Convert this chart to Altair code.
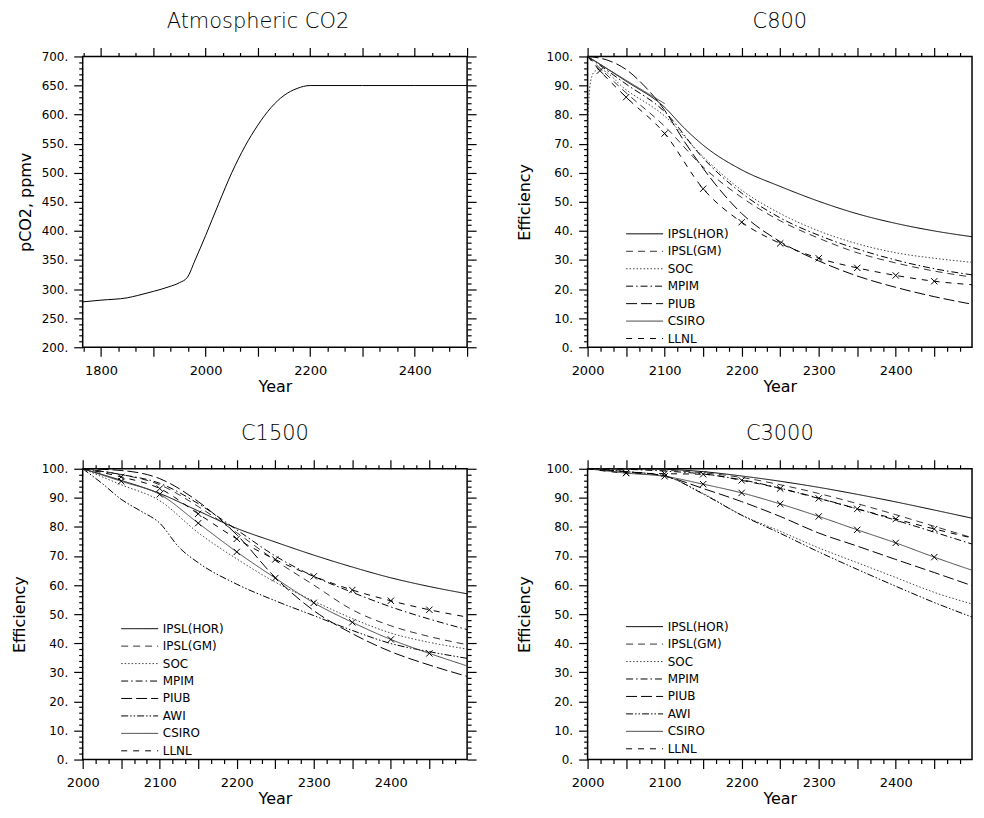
import altair as alt
import pandas as pd

FONT = "DejaVu Sans"
WL, WR, H = 386, 386, 292

# ---------------- data ----------------
co2_years = [1765, 1800, 1850, 1870, 1900, 1930, 1950, 1965, 1980, 2000, 2025, 2050, 2075, 2100, 2125, 2150, 2175, 2200, 2300, 2400, 2500]
co2_ppmv = [278, 281, 285, 289, 296, 304, 311, 320, 350, 392, 447, 500, 545, 582, 612, 633, 645, 650, 650, 650, 650]

SERIES = ["IPSL(HOR)", "IPSL(GM)", "SOC", "MPIM", "PIUB", "AWI", "CSIRO", "LLNL"]

# C800
c800_years = [2000, 2050, 2100, 2150, 2200, 2250, 2300, 2350, 2400, 2450, 2499]
c800_ipsl_gm = [100, 87.5, 76, 62, 51.5, 43.5, 37.5, 32.5, 29, 26.2, 24.1]
c800_mpim = [100, 90.5, 81, 65, 53, 44.5, 38.5, 33.8, 30, 27, 24.9]
c800_hor_years = [2000, 2050, 2100, 2125, 2150, 2200, 2250, 2300, 2350, 2400, 2450, 2499]
c800_ipsl_hor = [100, 91.5, 82.5, 75.5, 69.5, 61, 55.3, 50.2, 45.9, 42.6, 40, 38]
c800_soc_years = [2000, 2003, 2008, 2015, 2050, 2100, 2150, 2200, 2250, 2300, 2350, 2400, 2450, 2499]
c800_soc = [76, 90, 94.5, 95.5, 88.5, 79.5, 65.5, 54, 46, 40, 35.6, 32.5, 30.6, 29.2]
c800_piub_years = [2000, 2025, 2050, 2075, 2100, 2125, 2150, 2200, 2250, 2300, 2350, 2400, 2450, 2499]
c800_piub = [100, 98.8, 95.5, 89.5, 81.5, 71, 61.5, 46, 36.3, 29.7, 24.5, 20.6, 17.4, 14.8]
c800_csiro_years = [2000, 2050, 2100]
c800_csiro = [100, 91.8, 83.8]
c800_llnl_years = [2000, 2016, 2050, 2100, 2150, 2200, 2250, 2300, 2350, 2400, 2450, 2499]
c800_llnl = [100, 95.1, 86, 73.5, 54.5, 43, 35.7, 30.6, 27.3, 24.7, 22.7, 21.5]

# C1500
c1500_years = [2000, 2050, 2100, 2150, 2200, 2250, 2300, 2350, 2400, 2450, 2499]
c1500_ipsl_hor = [100, 96, 91.5, 85.5, 79.5, 74.8, 70.3, 66.2, 62.5, 59.5, 57]
c1500_ipsl_gm = [100, 98, 94.5, 87, 78, 68.5, 60, 51.5, 46, 42.3, 39.5]
c1500_soc = [100, 94.5, 89, 78, 69, 61, 54.5, 48.5, 43.5, 40.3, 38]
c1500_mpim = [100, 98, 95, 88, 79, 70, 63, 57.5, 52.5, 48.3, 44.7]
c1500_piub = [100, 99.4, 96.6, 88.7, 77.3, 62.6, 51.2, 43.3, 37.1, 32.5, 28.6]
c1500_awi_years = [2000, 2025, 2050, 2075, 2100, 2125, 2150, 2200, 2250, 2300, 2350, 2400, 2450, 2499]
c1500_awi = [100, 95, 89.5, 85.5, 81.3, 73, 67.7, 60.3, 54.6, 49.5, 44.4, 39.9, 37.1, 34.8]
c1500_csiro = [100, 95.7, 91.2, 81.3, 71.4, 62.4, 53.9, 47.2, 41.3, 36.5, 32.2]
c1500_llnl = [100, 97.2, 93.2, 84.5, 75.9, 68.8, 63, 58.3, 54.6, 51.5, 49]

# C3000
c3000_years = [2000, 2050, 2100, 2150, 2200, 2250, 2300, 2350, 2400, 2450, 2499]
c3000_ipsl_hor = [100, 100, 99.8, 99, 97.5, 95.7, 93.6, 91.2, 88.6, 85.8, 83]
c3000_ipsl_gm = [100, 99.9, 99.5, 98.6, 97, 94.5, 91.5, 88, 84.2, 80.2, 76.3]
c3000_soc = [100, 99, 97.5, 91.5, 84.1, 78.5, 72.8, 67.7, 62.6, 57.5, 53.5]
c3000_mpim = [100, 99.8, 99.2, 98.2, 96.2, 93.3, 89.9, 86.2, 82.3, 78.2, 74.1]
c3000_piub = [100, 99, 97.5, 93.2, 88.7, 83.6, 77.9, 73.4, 68.8, 64.3, 59.8]
c3000_awi = [100, 99, 97.5, 91.3, 84, 77.8, 71.4, 65.4, 59.6, 54, 49]
c3000_csiro = [100, 98.5, 97.4, 94.7, 91.7, 87.9, 83.6, 79, 74.5, 69.6, 65.1]
c3000_llnl = [100, 98.6, 98.3, 98.1, 96, 93.2, 89.8, 86.2, 82.7, 79.3, 76.2]

# ---------------- styles ----------------
DASHES = [[1, 0], [7, 5], [1.5, 2], [7, 3, 1.5, 3], [11, 4], [7, 2, 1.5, 2, 1.5, 2], [1, 0], [6, 6]]
COLORS = ["#000000", "#333333", "#444444", "#000000", "#000000", "#000000", "#444444", "#000000"]
WIDTHS = [1, 1, 1, 1, 1, 1, 1.6, 1]


def table(entries):
    rows = []
    for name, yrs, vals in entries:
        for yr, v in zip(yrs, vals):
            rows.append({"series": name, "year": yr, "value": v})
    return pd.DataFrame(rows)


def markers(entries, marked):
    rows = []
    for name, yrs, vals in entries:
        if name in marked:
            for yr, v in list(zip(yrs, vals))[1:-1]:
                rows.append({"series": name, "year": yr, "value": v})
    return pd.DataFrame(rows)


c800_entries = [
    ("IPSL(HOR)", c800_hor_years, c800_ipsl_hor),
    ("IPSL(GM)", c800_years, c800_ipsl_gm),
    ("SOC", c800_soc_years, c800_soc),
    ("MPIM", c800_years, c800_mpim),
    ("PIUB", c800_piub_years, c800_piub),
    ("CSIRO", c800_csiro_years, c800_csiro),
    ("LLNL", c800_llnl_years, c800_llnl),
]
c1500_entries = [
    ("IPSL(HOR)", c1500_years, c1500_ipsl_hor),
    ("IPSL(GM)", c1500_years, c1500_ipsl_gm),
    ("SOC", c1500_years, c1500_soc),
    ("MPIM", c1500_years, c1500_mpim),
    ("PIUB", c1500_years, c1500_piub),
    ("AWI", c1500_awi_years, c1500_awi),
    ("CSIRO", c1500_years, c1500_csiro),
    ("LLNL", c1500_years, c1500_llnl),
]
c3000_entries = [
    ("IPSL(HOR)", c3000_years, c3000_ipsl_hor),
    ("IPSL(GM)", c3000_years, c3000_ipsl_gm),
    ("SOC", c3000_years, c3000_soc),
    ("MPIM", c3000_years, c3000_mpim),
    ("PIUB", c3000_years, c3000_piub),
    ("AWI", c3000_years, c3000_awi),
    ("CSIRO", c3000_years, c3000_csiro),
    ("LLNL", c3000_years, c3000_llnl),
]

# ---------------- axes helpers ----------------
AX = dict(domain=False, grid=False, tickColor="black", tickWidth=1.2)


def x_axis(orient, values, size, width, label_expr=None):
    if label_expr is None:
        return alt.Axis(orient=orient, values=values, tickSize=size, labels=False, title=None, **AX)
    return alt.Axis(orient=orient, values=values, tickSize=size, labelExpr=label_expr,
                    labelFont=FONT, labelFontSize=13, labelColor="black", labelPadding=8,
                    labelFlush=False, title="Year", titleFont=FONT, titleFontSize=16,
                    titleFontWeight="normal", titleColor="black", titleX=width / 2, titleY=39,
                    titleBaseline="middle", **AX)


def y_axis(orient, values, size, title=None, title_x=-63):
    if title is None:
        return alt.Axis(orient=orient, values=values, tickSize=size, labels=False, title=None, **AX)
    return alt.Axis(orient=orient, values=values, tickSize=size, labelExpr="datum.value + '.'",
                    labelFont=FONT, labelFontSize=12, labelColor="black", labelPadding=6,
                    labelFlush=False, title=title, titleFont=FONT, titleFontSize=16,
                    titleFontWeight="normal", titleColor="black", titleX=title_x, titleY=H / 2,
                    titleAngle=270, titleBaseline="middle", **AX)


def axis_layers(df, xs, ys, width, xmaj, xmin, ymaj, ymin, x_expr, ytitle, ytitle_x, right):
    base = alt.Chart(df).mark_point(opacity=0)
    layers = [
        base.encode(x=alt.X("year:Q", scale=xs, axis=x_axis("bottom", xmaj, 9, width, x_expr)),
                    y=alt.Y("value:Q", scale=ys, axis=y_axis("left", ymaj, 9, ytitle, ytitle_x))),
        base.encode(x=alt.X("year:Q", scale=xs, axis=x_axis("bottom", xmin, 4, width)),
                    y=alt.Y("value:Q", scale=ys, axis=y_axis("left", ymin, 4))),
    ]
    if right:
        layers += [
            base.encode(x=alt.X("year:Q", scale=xs, axis=x_axis("top", xmaj, 9, width)),
                        y=alt.Y("value:Q", scale=ys, axis=y_axis("right", ymaj, 9))),
            base.encode(x=alt.X("year:Q", scale=xs, axis=x_axis("top", xmin, 4, width)),
                        y=alt.Y("value:Q", scale=ys, axis=y_axis("right", ymin, 4))),
        ]
    else:
        layers += [
            base.encode(x=alt.X("year:Q", scale=xs, axis=x_axis("top", xmaj, 9, width)),
                        y=alt.Y("value:Q", scale=ys, axis=None)),
            base.encode(x=alt.X("year:Q", scale=xs, axis=x_axis("top", xmin, 4, width)),
                        y=alt.Y("value:Q", scale=ys, axis=None)),
        ]
    return layers


def title_params(text, dx=0):
    return alt.TitleParams(text=text, font=FONT, fontSize=21, fontWeight=200, color="black",
                           anchor="middle", frame="group", baseline="alphabetic", offset=-2, dx=dx)


# efficiency tick values
eff_xmaj = [2000 + 50 * k for k in range(10)]
eff_xmin = [2000 + k * 50 / 3 for k in range(30) if k % 3 != 0]
eff_ymaj = list(range(0, 101, 10))
eff_ymin = [v for v in range(0, 101, 2) if v % 10 != 0]
eff_xexpr = "datum.value % 100 == 0 ? '' + datum.value : ''"

sd_scale = alt.Scale(domain=SERIES, range=DASHES)
col_scale = alt.Scale(domain=SERIES, range=COLORS)
sw_scale = alt.Scale(domain=SERIES, range=WIDTHS)


def eff_panel(title, entries, marked, legend_top, right, width):
    df = table(entries)
    mk = markers(entries, marked)
    names = [e[0] for e in entries]
    leg = pd.DataFrame({"series": names, "ly": [legend_top - 6 * i for i in range(len(names))]})
    xs = alt.Scale(domain=[2000, 2499], nice=False, zero=False)
    ys = alt.Scale(domain=[0, 100], nice=False, zero=False)
    style = dict(
        color=alt.Color("series:N", scale=col_scale, legend=None),
        strokeDash=alt.StrokeDash("series:N", scale=sd_scale, legend=None),
        strokeWidth=alt.StrokeWidth("series:N", scale=sw_scale, legend=None),
    )
    lines = alt.Chart(df).mark_line(interpolate="monotone").encode(
        x=alt.X("year:Q", scale=xs, axis=None),
        y=alt.Y("value:Q", scale=ys, axis=None),
        detail="series:N", **style)
    pts = alt.Chart(mk).mark_point(shape="M-1,-1L1,1M-1,1L1,-1", filled=False, size=40,
                                   color="black", strokeWidth=1, opacity=1).encode(
        x=alt.X("year:Q", scale=xs, axis=None),
        y=alt.Y("value:Q", scale=ys, axis=None))
    leg_lines = alt.Chart(leg).transform_calculate(lx1="2050", lx2="2098").mark_rule().encode(
        x=alt.X("lx1:Q", scale=xs, axis=None), x2="lx2:Q",
        y=alt.Y("ly:Q", scale=ys, axis=None), **style)
    leg_text = alt.Chart(leg).transform_calculate(tx="2104").mark_text(
        align="left", baseline="middle", font=FONT, fontSize=12, color="black").encode(
        x=alt.X("tx:Q", scale=xs, axis=None),
        y=alt.Y("ly:Q", scale=ys, axis=None), text="series:N")
    axes = axis_layers(df, xs, ys, width, eff_xmaj, eff_xmin, eff_ymaj, eff_ymin, eff_xexpr,
                       "Efficiency", -63, right)
    return alt.layer(*axes, lines, pts, leg_lines, leg_text).resolve_axis(
        x="independent", y="independent").properties(
        width=width, height=H, title=title_params(title))


# CO2 panel
co2_df = pd.DataFrame({"year": co2_years, "value": co2_ppmv})
co2_xs = alt.Scale(domain=[1765, 2500], nice=False, zero=False)
co2_ys = alt.Scale(domain=[200, 700], nice=False, zero=False)
co2_xmaj = [1800 + 100 * k for k in range(8)]
co2_xmin = [1800 + k * 100 / 3 for k in range(-1, 22) if k % 3 != 0]
co2_ymaj = list(range(200, 701, 50))
co2_ymin = [v for v in range(200, 701, 10) if v % 50 != 0]
co2_line = alt.Chart(co2_df).mark_line(interpolate="monotone", color="black", strokeWidth=1).encode(
    x=alt.X("year:Q", scale=co2_xs, axis=None), y=alt.Y("value:Q", scale=co2_ys, axis=None))
co2_axes = axis_layers(co2_df, co2_xs, co2_ys, WL, co2_xmaj, co2_xmin, co2_ymaj, co2_ymin,
                       "datum.value % 200 == 0 ? '' + datum.value : ''", "pCO2, ppmv", -57, True)
p1 = alt.layer(*co2_axes, co2_line).resolve_axis(x="independent", y="independent").properties(
    width=WL, height=H, title=title_params("Atmospheric CO2", dx=-17))

p2 = eff_panel("C800", c800_entries, ["LLNL"], 39, False, WR)
p3 = eff_panel("C1500", c1500_entries, ["CSIRO", "LLNL"], 45, True, WL)
p4 = eff_panel("C3000", c3000_entries, ["CSIRO", "LLNL"], 45.7, False, WR)

chart = alt.concat(p1, p2, p3, p4, columns=2, spacing={"row": 27, "column": 38}).properties(
    padding={"left": 3, "top": 0, "right": 0, "bottom": 0}
).configure_view(stroke="black", strokeWidth=1.5)

chart.save("out.html", embed_options={"renderer": "svg", "actions": False})
